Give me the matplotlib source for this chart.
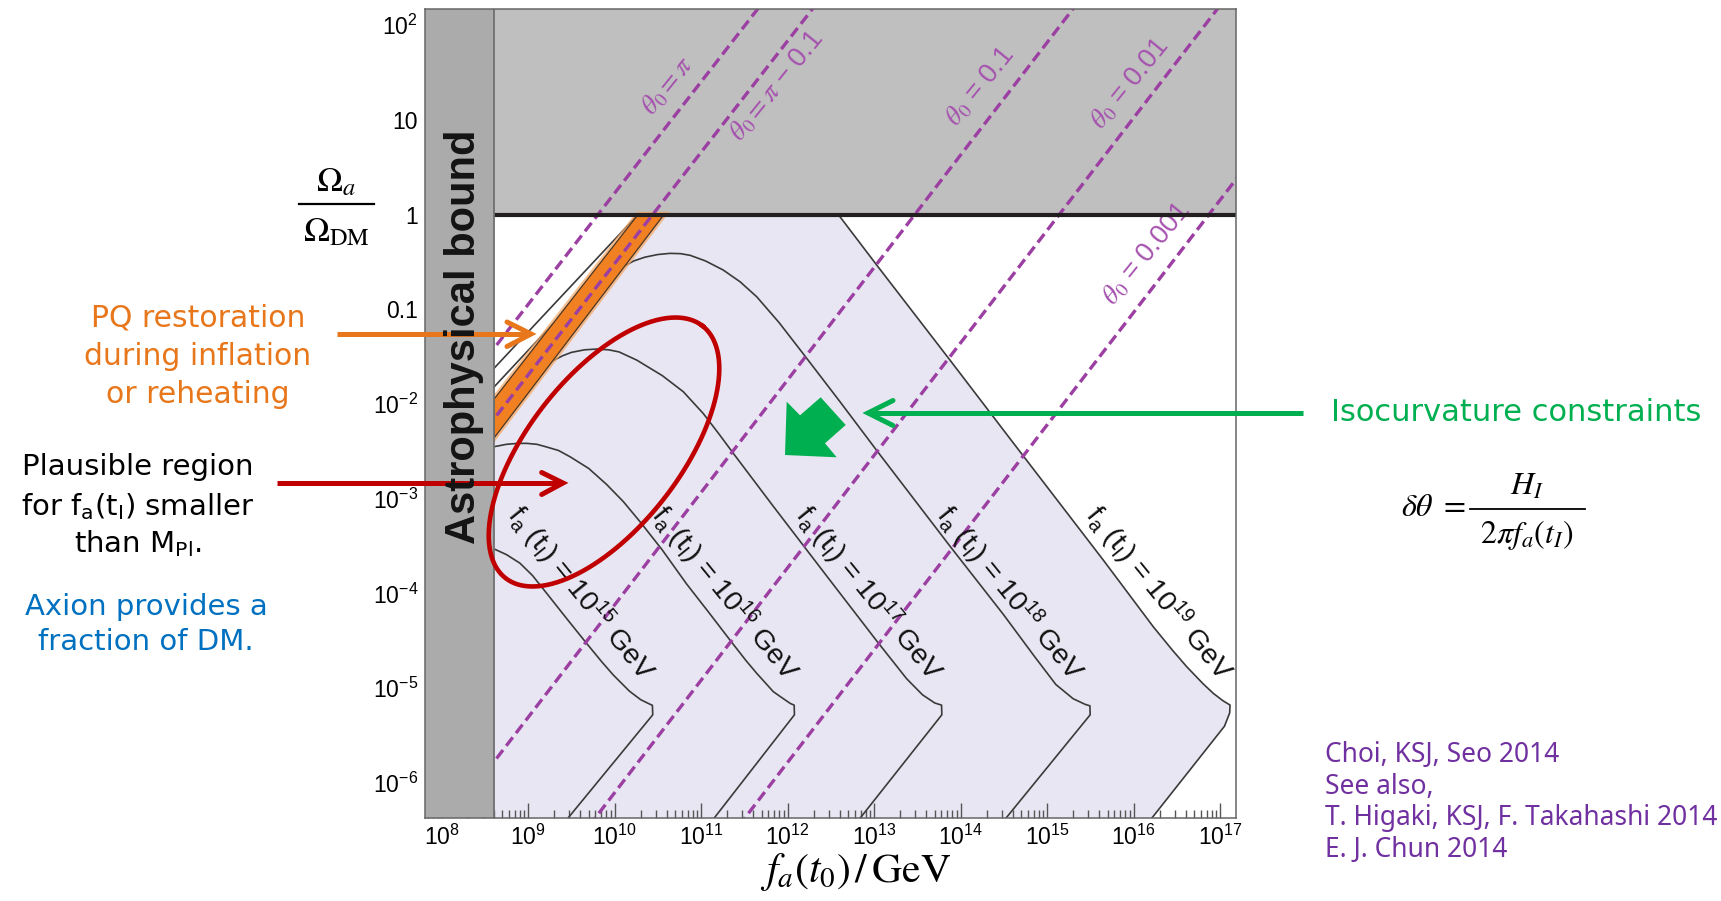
import numpy as np
import matplotlib
matplotlib.use('Agg')
import matplotlib.pyplot as plt
from matplotlib.lines import Line2D
from matplotlib.patches import Polygon
from matplotlib.ticker import LogLocator, NullFormatter, FixedLocator, FixedFormatter

W, H = 1721, 901
plt.rcParams['font.family'] = ['Liberation Sans', 'DejaVu Sans']
plt.rcParams['mathtext.fontset'] = 'custom'
plt.rcParams['mathtext.rm'] = 'Liberation Sans'
plt.rcParams['mathtext.it'] = 'Liberation Sans:italic'
plt.rcParams['mathtext.bf'] = 'Liberation Sans:bold'
plt.rcParams['mathtext.sf'] = 'Liberation Sans'

# ---------------- data (log10 values) ----------------
log_fa_lim = (7.807, 17.183)          # log10 f_a(t0)/GeV
log_om_lim = (-6.369, 2.169)          # log10 Omega_a/Omega_DM
astro_bound = 8.608                   # log10 f_a astrophysical bound

x_tick_exp = list(range(8, 18))
x_tick_labels = [r'$10^{%d}$' % k for k in x_tick_exp]
y_tick_exp = [2, 1, 0, -1, -2, -3, -4, -5, -6]
y_tick_labels = [r'$10^{2}$', '10', '1', '0.1', r'$10^{-2}$', r'$10^{-3}$',
                 r'$10^{-4}$', r'$10^{-5}$', r'$10^{-6}$']

# theta_0 contours: log10 f_a where Omega = 1, and log-log slope
theta_labels = [r'$\theta_0 = \pi$', r'$\theta_0 = \pi$ − 0.1', r'$\theta_0$ = 0.1',
                r'$\theta_0$ = 0.01', r'$\theta_0$ = 0.001']
theta_fa_at_unity = [9.807, 10.44, 13.47, 15.14, 16.87]
theta_slope = [1.175, 1.175, 1.187, 1.187, 1.187]
theta_label_x = [10.62, 11.88, 14.23, 15.96, 16.15]
theta_label_y = [1.356, 1.356, 1.349, 1.377, -0.417]

# PQ restoration band (left edge, right edge)
band_left_x = [8.608, 10.27]
band_left_y = [-1.945, 0.0]
band_right_x = [8.608, 10.57]
band_right_y = [-2.355, 0.0]

# f_a(t_I) contours
fa_tI_exp = [15, 16, 17, 18, 19]
c15_x = [8.608, 8.75, 8.905, 9.05, 9.214, 9.45, 9.67, 9.85, 9.984, 10.17, 10.30, 10.40, 10.436, 10.44, 9.46]
c15_y = [-3.53, -3.59, -3.68, -3.81, -3.998, -4.27, -4.52, -4.72, -4.86, -5.03, -5.12, -5.165, -5.18, -5.28, -6.37]
c16_x = [8.608, 8.75, 8.87, 8.98, 9.1, 9.2, 9.35, 9.483, 9.70, 9.908, 10.10, 10.293, 10.55, 10.832, 11.08, 11.333,
         11.52, 11.642, 11.834, 11.95, 12.03, 12.075, 12.078, 11.15]
c16_y = [-2.45, -2.425, -2.416, -2.415, -2.425, -2.45, -2.49, -2.556, -2.68, -2.85, -3.03, -3.242, -3.54, -3.90,
         -4.19, -4.491, -4.71, -4.842, -5.036, -5.11, -5.16, -5.178, -5.28, -6.37]
c17_x = [9.27, 9.4, 9.5, 9.65, 9.79, 9.93, 10.05, 10.254, 10.55, 10.793, 11.024, 11.217, 11.371, 11.834, 12.489,
         13.029, 13.376, 13.56, 13.70, 13.779, 13.782, 12.838]
c17_y = [-1.55, -1.49, -1.455, -1.428, -1.42, -1.428, -1.45, -1.536, -1.70, -1.87, -2.10, -2.33, -2.52, -3.08,
         -3.86, -4.50, -4.90, -5.07, -5.155, -5.178, -5.28, -6.37]
c18_x = [10.10, 10.22, 10.35, 10.5, 10.64, 10.76, 10.87, 11.05, 11.255, 11.45, 11.642, 11.9, 12.18, 12.6, 13.029,
         13.876, 14.493, 14.85, 15.10, 15.30, 15.44, 15.494, 15.497, 14.524]
c18_y = [-0.55, -0.49, -0.45, -0.422, -0.41, -0.413, -0.43, -0.49, -0.586, -0.71, -0.868, -1.14, -1.47, -1.97,
         -2.49, -3.50, -4.22, -4.66, -4.96, -5.11, -5.17, -5.185, -5.28, -6.37]
c18_left_x = [8.608, 9.29]
c18_left_y = [-1.817, -1.15]
c19_rise_x = [8.608, 10.27]
c19_rise_y = [-1.62, 0.0]
c19_x = [12.585, 13.029, 13.876, 14.57, 15.032, 15.648, 16.226, 16.45, 16.613, 16.80, 16.92, 17.03, 17.114,
         17.11, 17.05, 16.21]
c19_y = [0.0, -0.533, -1.536, -2.365, -2.914, -3.646, -4.35, -4.60, -4.772, -4.95, -5.053, -5.13, -5.177,
         -5.26, -5.40, -6.37]
curve_label_x = [9.607, 11.275, 12.94, 14.57, 16.293]
curve_label_y = [-4.0, -4.0, -4.0, -4.0, -4.0]

# ---------------- colours ----------------
lavender = '#E8E6F2'
gray_top = '#BFBFBF'
gray_astro = '#ABABAB'
purple = '#9C3FA2'
purple_txt = '#A552AE'
orange = '#F08022'
curve_col = '#3A3A3A'


def P(v):
    return 10 ** np.asarray(v, dtype=float)


fig = plt.figure(figsize=(W / 100, H / 100), dpi=100)
ax = fig.add_axes([425 / W, 1 - 818 / H, (1236 - 425) / W, (818 - 9) / H])
ax.set_xscale('log')
ax.set_yscale('log')
ax.set_xlim(P(log_fa_lim[0]), P(log_fa_lim[1]))
ax.set_ylim(P(log_om_lim[0]), P(log_om_lim[1]))

xr = log_fa_lim[1] + 0.3
# lavender allowed region
lav_x = [astro_bound] + band_right_x + c19_x + [astro_bound]
lav_y = [log_om_lim[0] - 0.01] + band_right_y + c19_y + [log_om_lim[0] - 0.01]
ax.fill(P(lav_x), P(lav_y), color=lavender, lw=0, zorder=1)

# Omega > 1 excluded region
ax.fill(P([astro_bound, xr, xr, astro_bound]), P([0, 0, 3, 3]), color=gray_top, lw=0, zorder=2)

# f_a(t_I) contours
for cx, cy in [(c15_x, c15_y), (c16_x, c16_y), (c17_x, c17_y), (c18_x, c18_y), (c19_x, c19_y),
               (c18_left_x, c18_left_y), (c19_rise_x, c19_rise_y)]:
    ax.plot(P(cx), P(cy), color=curve_col, lw=1.2, zorder=3, solid_joinstyle='round')

# PQ restoration band
band_x = band_left_x + band_right_x[::-1]
band_y = band_left_y + band_right_y[::-1]
ax.fill(P(band_x), P(band_y), facecolor='none', edgecolor='#F6A560', lw=4, zorder=3.5, alpha=0.7)
ax.fill(P(band_x), P(band_y), facecolor=orange, edgecolor='#4A3624', lw=0.9, zorder=4)

# theta_0 lines
lx = np.array([astro_bound - 0.2, xr])
for xc, s in zip(theta_fa_at_unity, theta_slope):
    ax.plot(P(lx), P(s * (lx - xc)), color=purple, lw=2.4, dashes=(3.2, 1.6), zorder=5)
for lab, tx, ty in zip(theta_labels, theta_label_x, theta_label_y):
    ax.text(P(tx), P(ty), lab, color=purple_txt, fontsize=19.5, rotation=51, rotation_mode='anchor',
            ha='center', va='center', math_fontfamily='stix', zorder=6)

# Omega = 1 line
ax.plot(P([astro_bound, xr]), [1, 1], color='#231F20', lw=3, zorder=6, solid_capstyle='butt')

# astrophysical bound
ax.fill(P([log_fa_lim[0] - 0.5, astro_bound, astro_bound, log_fa_lim[0] - 0.5]),
        P([-8, -8, 3, 3]), color=gray_astro, lw=0, zorder=7)
ax.plot(P([astro_bound, astro_bound]), P([-8, 3]), color='#707070', lw=1.3, zorder=7.1)

# curve labels
for e, tx, ty in zip(fa_tI_exp, curve_label_x, curve_label_y):
    ax.text(P(tx), P(ty), r'f$_\mathrm{a}$ (t$_\mathrm{I}$) = 10$^{%d}$ GeV' % e, fontsize=20.5,
            rotation=-51, rotation_mode='anchor', ha='center', va='center', color='#111111', zorder=8)

# axes styling
ax.xaxis.set_major_locator(FixedLocator(P(x_tick_exp)))
ax.xaxis.set_major_formatter(FixedFormatter(x_tick_labels))
ax.yaxis.set_major_locator(FixedLocator(P(y_tick_exp)))
ax.yaxis.set_major_formatter(FixedFormatter(y_tick_labels))
ax.xaxis.set_minor_locator(LogLocator(base=10, subs=np.arange(2, 10), numticks=100))
ax.yaxis.set_minor_locator(LogLocator(base=10, subs=np.arange(2, 10), numticks=100))
ax.xaxis.set_minor_formatter(NullFormatter())
ax.yaxis.set_minor_formatter(NullFormatter())
ax.tick_params(which='both', direction='in', top=True, right=False, color='#555555', width=1.0, zorder=9)
ax.tick_params(which='major', length=11, labelsize=16.5, pad=5)
ax.tick_params(which='minor', length=5.5)
for sp in ax.spines.values():
    sp.set_color('#666666')
    sp.set_linewidth(1.1)
    sp.set_zorder(10)


# ---------------- figure-level annotations (pixel helpers) ----------------
def fx(x):
    return x / W


def fy(y):
    return 1 - y / H


def seg(xs, ys, **kw):
    fig.add_artist(Line2D([fx(v) for v in xs], [fy(v) for v in ys], transform=fig.transFigure, **kw))


fig.text(fx(464), fy(336.5), 'Astrophysical bound', rotation=90, fontsize=30, fontweight='bold',
         ha='center', va='center', color='#141414')

# y label as a fraction
fig.text(fx(336), fy(182), r'$\Omega_a$', fontsize=25, math_fontfamily='stix', ha='center', va='center')
seg([299, 374], [204, 204], color='black', lw=1.6)
fig.text(fx(336), fy(232), r'$\Omega_{\rm DM}$', fontsize=25, math_fontfamily='stix', ha='center', va='center')
fig.text(fx(856), fy(872), r'$f_a(t_0)\,/\,\mathrm{GeV}$', fontsize=30, math_fontfamily='stix',
         ha='center', va='center')

comic = ['DejaVu Sans']
for txt, y in [('PQ restoration', 318), ('during inflation', 356.7), ('or reheating', 395)]:
    fig.text(fx(198), fy(y), txt, fontsize=21.5, family=comic, color='#E8761A', ha='center', va='center')
for txt, y in [('Plausible region', 466.7), (r'for f$_\mathrm{a}$(t$_\mathrm{I}$) smaller', 506.7),
               (r'than M$_\mathrm{Pl}$.', 543.3)]:
    fig.text(fx(137.5), fy(y), txt, fontsize=21, family=comic, color='black', ha='center', va='center',
             math_fontfamily='dejavusans')
for txt, y in [('Axion provides a', 606.7), ('fraction of DM.', 641.7)]:
    fig.text(fx(146), fy(y), txt, fontsize=21, family=comic, color='#0070C0', ha='center', va='center')
fig.text(fx(1516), fy(413), 'Isocurvature constraints', fontsize=22, family=comic, color='#00B050',
         ha='center', va='center')

# isocurvature formula
fig.text(fx(1401), fy(508), r'$\delta\theta\ =$', fontsize=23, math_fontfamily='stix', ha='left', va='center')
seg([1470, 1585], [509, 509], color='black', lw=1.3)
fig.text(fx(1527), fy(487), r'$H_I$', fontsize=23, math_fontfamily='stix', ha='center', va='center')
fig.text(fx(1527), fy(535), r'$2\pi f_a(t_I)$', fontsize=23, math_fontfamily='stix', ha='center', va='center')

for txt, y in [('Choi, KSJ, Seo 2014', 755), ('See also,', 787.3), ('T. Higaki, KSJ, F. Takahashi 2014', 818.3),
               ('E. J. Chun 2014', 850)]:
    fig.text(fx(1325), fy(y), txt, fontsize=19, family=['Noto Sans', 'DejaVu Sans'], color='#7030A0',
             ha='left', va='center')

# arrows
aw = 3.6
seg([337, 529], [334, 334], color='#E8761A', lw=aw, solid_capstyle='butt')
seg([507, 531, 507], [322, 334, 346.5], color='#E8761A', lw=aw, solid_capstyle='round', solid_joinstyle='miter')
seg([277, 561], [483, 483], color='#C00000', lw=aw, solid_capstyle='butt')
seg([541.7, 563, 541.7], [472.5, 483, 494.5], color='#C00000', lw=aw, solid_capstyle='round',
    solid_joinstyle='miter')
seg([1303, 869], [413, 413], color='#00B050', lw=aw, solid_capstyle='butt')
seg([893, 868, 893], [400.5, 413, 425.5], color='#00B050', lw=aw, solid_capstyle='round',
    solid_joinstyle='miter')
blk = [(785, 455), (786.7, 401.7), (800, 415.3), (820.7, 397.3), (845.7, 425), (825, 443.3), (836.7, 457.3)]
fig.add_artist(Polygon([(fx(a), fy(b)) for a, b in blk], closed=True, transform=fig.transFigure,
                       fc='#00AF50', ec='none'))

# red ellipse
t = np.linspace(0, 2 * np.pi, 400)
phi = np.deg2rad(52)
ea, eb, ecx, ecy = 160, 76, 604, 452
ex = ecx + ea * np.cos(t) * np.cos(phi) + eb * np.sin(t) * np.sin(phi)
ey = ecy - ea * np.cos(t) * np.sin(phi) + eb * np.sin(t) * np.cos(phi)
seg(ex, ey, color='#C00000', lw=3.3)

fig.savefig('out.png', dpi=100)
